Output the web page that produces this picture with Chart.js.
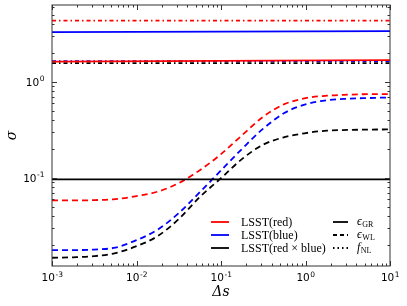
<!DOCTYPE html>
<html>
<head>
<meta charset="utf-8">
<script src="https://cdn.jsdelivr.net/npm/chart.js@4.4.1/dist/chart.umd.min.js"></script>
<style>
  html, body { margin: 0; padding: 0; background: #fff; }
  #wrap { width: 407px; height: 306px; }
</style>
</head>
<body>
<div id="wrap"><canvas id="chart" width="407" height="306"></canvas></div>
<script>
// sample points along Delta s (quarter decades)
var xValues = [0.001, 0.00178, 0.00316, 0.00562, 0.01, 0.0178, 0.0316, 0.0562, 0.1,
  0.178, 0.316, 0.562, 1, 1.78, 3.16, 5.62, 10];
var redWL = [0.0579, 0.0579, 0.0583, 0.0597, 0.0642, 0.0715, 0.0877, 0.1197, 0.176,
  0.277, 0.432, 0.583, 0.673, 0.715, 0.732, 0.741, 0.741];
var blueWL = [0.01758, 0.01758, 0.0178, 0.01866, 0.0223, 0.0287, 0.0427, 0.0706, 0.119,
  0.200, 0.324, 0.472, 0.580, 0.641, 0.665, 0.676, 0.685];
var crossWL = [0.01462, 0.01479, 0.01521, 0.01636, 0.0193, 0.0246, 0.0370, 0.0630, 0.0988,
  0.157, 0.221, 0.264, 0.291, 0.309, 0.314, 0.317, 0.318];

// flat curves: value at both ends of the range
var flatX = [0.001, 10];
var redGR = [1.62, 1.675];
var blueGR = [3.28, 3.36];
var crossGR = [0.096, 0.096];
var redNL = [4.34, 4.34];
var blueNL = [1.635, 1.635];
var crossNL = [1.56, 1.56];

// decade tick labels (exponents)
var xDecades = [-3, -2, -1, 0, 1];
var yDecades = [-1, 0];

var xMin = 0.001, xMax = 10;
var yMin = 0.012, yMax = 6.3;

var RED = '#ff0000', BLUE = '#0000ff', BLACK = '#000000';
var DASHED = [6, 4];
var DASHDOT = [4, 3, 1.5, 3];

function pts(xs, ys) {
  return xs.map(function (x, i) { return { x: x, y: ys[i] }; });
}

function series(label, xs, ys, color, dash) {
  return {
    label: label,
    data: pts(xs, ys),
    borderColor: color,
    backgroundColor: color,
    borderWidth: 1.8,
    borderDash: dash,
    pointRadius: 0,
    fill: false,
    cubicInterpolationMode: 'monotone'
  };
}

// inward ticks on all four sides, the axes frame and 10^n labels
var frameTicks = {
  id: 'frameTicks',
  afterDraw: function (chart) {
    var ctx = chart.ctx;
    var a = chart.chartArea;
    var xs = chart.scales.x, ys = chart.scales.y;
    ctx.save();
    ctx.strokeStyle = '#333';
    ctx.lineWidth = 1;
    ctx.setLineDash([]);
    ctx.strokeRect(a.left, a.top, a.right - a.left, a.bottom - a.top);
    ctx.beginPath();
    for (var e = -3; e <= 1; e++) {
      for (var m = 1; m <= 9; m++) {
        var v = m * Math.pow(10, e);
        if (v < xMin * 0.9999 || v > xMax * 1.0001) continue;
        var px = Math.round(xs.getPixelForValue(v)) + 0.5;
        var len = m === 1 ? 5 : 2.5;
        ctx.moveTo(px, a.bottom); ctx.lineTo(px, a.bottom - len);
        ctx.moveTo(px, a.top); ctx.lineTo(px, a.top + len);
      }
    }
    for (var e2 = -2; e2 <= 0; e2++) {
      for (var m2 = 1; m2 <= 9; m2++) {
        var v2 = m2 * Math.pow(10, e2);
        if (v2 < yMin || v2 > yMax) continue;
        var py = Math.round(ys.getPixelForValue(v2)) + 0.5;
        var len2 = m2 === 1 ? 5 : 2.5;
        ctx.moveTo(a.left, py); ctx.lineTo(a.left + len2, py);
        ctx.moveTo(a.right, py); ctx.lineTo(a.right - len2, py);
      }
    }
    ctx.stroke();

    ctx.fillStyle = '#000';
    ctx.textBaseline = 'alphabetic';
    ctx.textAlign = 'left';
    var base = '10.5px "DejaVu Sans"', sup = '7.5px "DejaVu Sans"';
    function measure(exp) {
      ctx.font = base; var w1 = ctx.measureText('10').width;
      ctx.font = sup; var w2 = ctx.measureText(String(exp)).width;
      return [w1, w2];
    }
    function put(exp, x0, yb) {
      var w = measure(exp);
      ctx.font = base; ctx.fillText('10', x0, yb);
      ctx.font = sup; ctx.fillText(String(exp), x0 + w[0] + 0.5, yb - 4.5);
    }
    xDecades.forEach(function (exp) {
      var px = xs.getPixelForValue(Math.pow(10, exp));
      var w = measure(exp);
      put(exp, px - (w[0] + w[1]) / 2, a.bottom + 15);
    });
    yDecades.forEach(function (exp) {
      var py = ys.getPixelForValue(Math.pow(10, exp));
      var w = measure(exp);
      put(exp, 44 - w[0] - w[1], py + 4);
    });
    ctx.restore();
  }
};

// two-column legend in the lower right of the axes
var legendBox = {
  id: 'legendBox',
  afterDraw: function (chart) {
    var ctx = chart.ctx;
    ctx.save();
    ctx.lineWidth = 1.8;
    ctx.textBaseline = 'middle';
    ctx.fillStyle = '#000';

    var rows = [222, 235, 248];
    var left = [
      { color: RED, text: 'LSST(red)' },
      { color: BLUE, text: 'LSST(blue)' },
      { color: BLACK, text: 'LSST(red \u00D7 blue)' }
    ];
    left.forEach(function (it, i) {
      ctx.strokeStyle = it.color;
      ctx.setLineDash([]);
      ctx.beginPath(); ctx.moveTo(211, rows[i]); ctx.lineTo(229, rows[i]); ctx.stroke();
      ctx.font = '12px "Liberation Serif"';
      ctx.fillText(it.text, 241, rows[i] + 0.5);
    });

    var right = [
      { dash: [], sym: '\u03F5', sub: 'GR' },
      { dash: [4, 3], sym: '\u03F5', sub: 'WL' },
      { dash: [1.5, 3], sym: 'f', sub: 'NL' }
    ];
    right.forEach(function (it, i) {
      ctx.strokeStyle = BLACK;
      ctx.setLineDash(it.dash);
      ctx.beginPath(); ctx.moveTo(333, rows[i]); ctx.lineTo(348, rows[i]); ctx.stroke();
      ctx.font = 'italic 12px "Liberation Serif"';
      ctx.fillText(it.sym, 357, rows[i]);
      var w = ctx.measureText(it.sym).width;
      ctx.font = '8px "Liberation Serif"';
      ctx.fillText(it.sub, 357 + w + 0.5, rows[i] + 3);
    });
    ctx.restore();
  }
};

new Chart(document.getElementById('chart'), {
  type: 'line',
  data: {
    datasets: [
      series('red GR', flatX, redGR, RED, []),
      series('blue GR', flatX, blueGR, BLUE, []),
      series('cross GR', flatX, crossGR, BLACK, []),
      series('red WL', xValues, redWL, RED, DASHED),
      series('blue WL', xValues, blueWL, BLUE, DASHED),
      series('cross WL', xValues, crossWL, BLACK, DASHED),
      series('red NL', flatX, redNL, RED, DASHDOT),
      series('blue NL', flatX, blueNL, BLUE, DASHDOT),
      series('cross NL', flatX, crossNL, BLACK, DASHDOT)
    ]
  },
  options: {
    responsive: false,
    devicePixelRatio: 1,
    animation: false,
    layout: { padding: { top: 5, right: 17, left: 0, bottom: 0 } },
    plugins: {
      legend: { display: false },
      tooltip: { enabled: false }
    },
    scales: {
      x: {
        type: 'logarithmic',
        min: xMin,
        max: xMax,
        grid: { display: false },
        border: { display: false },
        ticks: { display: false },
        title: {
          display: true,
          text: '\u0394s',
          color: '#000',
          padding: { top: 0, bottom: 5 },
          font: { family: 'DejaVu Serif', style: 'italic', size: 14 }
        },
        afterFit: function (s) {
          s.height = 40;
          s.paddingLeft = 0; s.paddingRight = 0;
        }
      },
      y: {
        type: 'logarithmic',
        min: yMin,
        max: yMax,
        grid: { display: false },
        border: { display: false },
        ticks: { display: false },
        title: {
          display: true,
          text: '\u03C3',
          color: '#000',
          padding: { top: 4, bottom: 0 },
          font: { family: 'DejaVu Serif', style: 'italic', size: 14 }
        },
        afterFit: function (s) {
          s.width = 52;
          s.paddingTop = 0; s.paddingBottom = 0;
        }
      }
    }
  },
  plugins: [frameTicks, legendBox]
});
</script>
</body>
</html>
